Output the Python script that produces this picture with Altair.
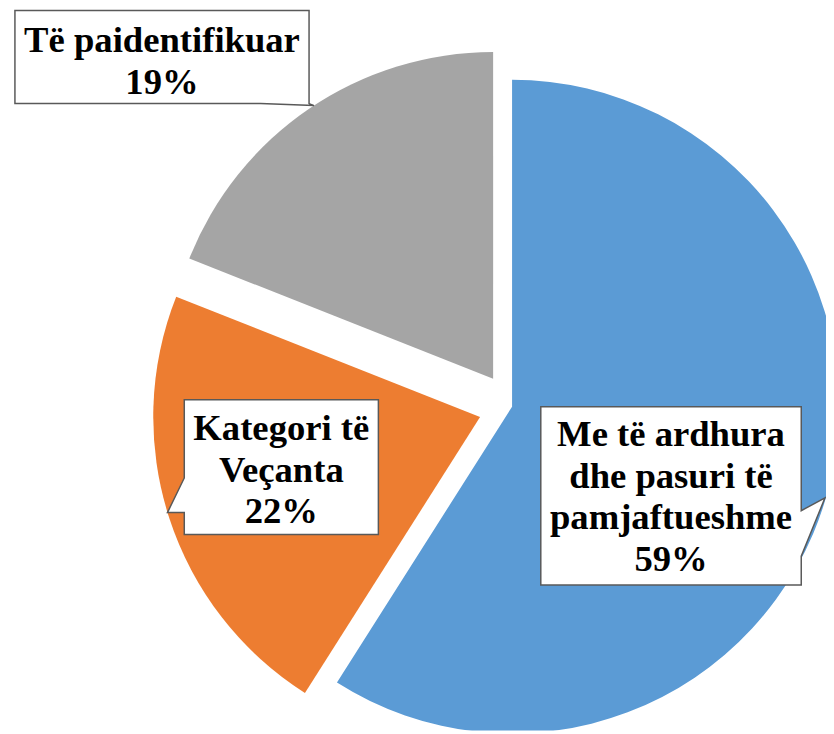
import altair as alt
import pandas as pd

# ---- data ----
categories = ["Me të ardhura dhe pasuri të pamjaftueshme", "Kategori të Veçanta", "Të paidentifikuar"]
values = [59, 22, 19]
label_lines = [
    ["Me të ardhura", "dhe pasuri të", "pamjaftueshme", "59%"],
    ["Kategori të", "Veçanta", "22%"],
    ["Të paidentifikuar", "19%"],
]

# ---- styles / layout ----
colors = ["#5B9BD5", "#ED7D31", "#A5A5A5"]
explode = {categories[0]: 0, categories[1]: 34, categories[2]: 34}
W, H = 826, 726
CX, CY, R = 509, 399, 330
FONT = "Liberation Serif"

df = pd.DataFrame({"cat": categories, "val": values, "ord": list(range(len(values)))})
df["ex"] = df["cat"].map(explode)

pie = (
    alt.Chart(df)
    .transform_window(cum="sum(val)", sort=[alt.SortField("ord")])
    .transform_joinaggregate(total="sum(val)")
    .transform_calculate(
        t0="(datum.cum - datum.val) / datum.total * 2 * PI",
        t1="datum.cum / datum.total * 2 * PI",
    )
    .transform_calculate(mid="(datum.t0 + datum.t1) / 2")
    .transform_calculate(
        px=f"{CX} + datum.ex * sin(datum.mid)",
        py=f"{CY} - datum.ex * cos(datum.mid)",
    )
    .mark_arc(radius=R, clip=True)
    .encode(
        theta=alt.Theta("t0:Q", scale=None),
        theta2="t1:Q",
        x=alt.X("px:Q", scale=None),
        y=alt.Y("py:Q", scale=None),
        color=alt.Color("cat:N", scale=alt.Scale(domain=categories, range=colors), legend=None),
    )
)


def path_from(points, ax, ay):
    return "M" + " L".join(f"{px - ax},{py - ay}" for px, py in points) + " Z"


# callout outlines in page coordinates (box corners plus pointer tail)
boxes = [
    [(546, 407), (809, 407), (809, 512), (833, 499), (809, 558), (809, 587), (546, 587)],
    [(186, 400), (382, 400), (382, 536), (186, 536), (186, 514), (169, 514), (186, 479)],
    [(15, 7), (312, 7), (312, 101), (317, 103), (263, 101), (15, 101)],
]
text_pos = [(677.5, 447), (284, 441), (163.5, 49)]

layers = [pie]
for pts, lines, (tx, ty) in zip(boxes, label_lines, text_pos):
    ax, ay = pts[0]
    box = alt.Chart(pd.DataFrame({"a": [0]})).mark_point(
        shape=path_from(pts, ax, ay), size=4, filled=True, fill="white", stroke="#595959",
        strokeWidth=1.5, opacity=1, strokeOpacity=1, fillOpacity=1,
    ).encode(x=alt.value(ax - 8), y=alt.value(ay - 8))
    txt = alt.Chart(pd.DataFrame({"a": [0]})).mark_text(
        text=lines, font=FONT, fontSize=37, fontWeight="bold", color="black",
        align="center", baseline="alphabetic", lineHeight=42,
    ).encode(x=alt.value(tx - 8), y=alt.value(ty - 8))
    layers += [box, txt]

chart = (
    alt.layer(*layers)
    .properties(width=W, height=H, padding=0, autosize=alt.AutoSizeParams(type="none"))
    .configure_view(stroke=None)
)

chart.save("out.html", embed_options={"renderer": "svg", "actions": False})
